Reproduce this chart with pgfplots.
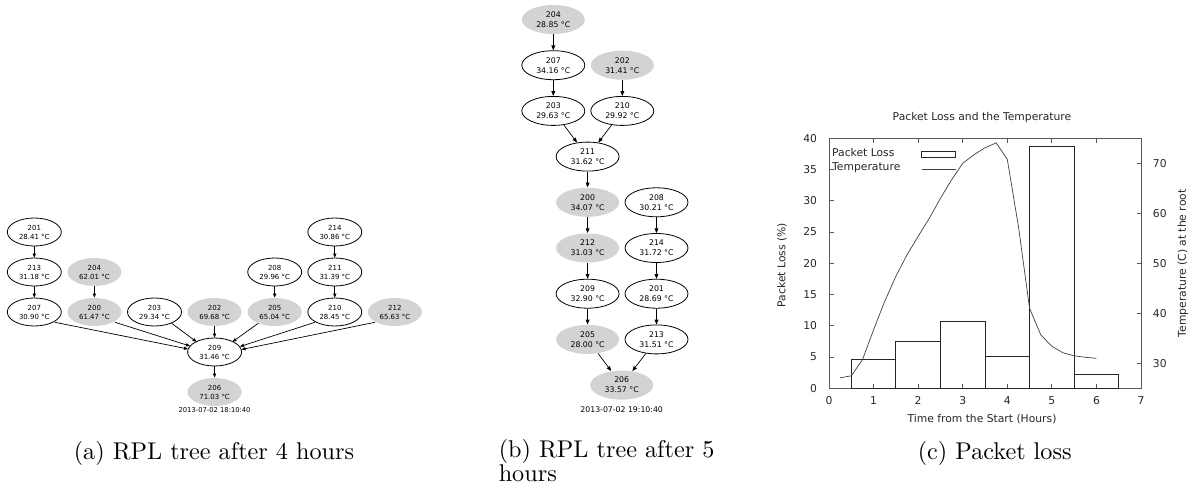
\documentclass[border=0pt]{standalone}
\usepackage{fontspec}
\newfontfamily\dv{DejaVu Sans}
\usepackage{pgfplots}
\pgfplotsset{compat=1.18}
\usetikzlibrary{shapes.geometric,arrows.meta}
\definecolor{nodegray}{HTML}{D3D3D3}
\newcommand\chartfont{\dv\fontsize{10.8}{13}\selectfont}

\tikzset{
  na/.style={ellipse, draw, line width=0.8bp, minimum width=54bp, minimum height=28bp,
    inner sep=0pt, align=center, font=\dv\fontsize{7}{9}\selectfont},
  ga/.style={na, draw=none, fill=nodegray},
  nb/.style={na, minimum width=63bp, minimum height=29bp, font=\dv\fontsize{7.8}{10}\selectfont},
  gb/.style={nb, draw=none, fill=nodegray},
  ea/.style={line width=0.7bp, -{Triangle[length=4bp,width=3.2bp]}},
  eb/.style={line width=0.7bp, -{Triangle[length=4.8bp,width=3.8bp]}},
  subcap/.style={anchor=base west, inner sep=0pt, scale=2.43},
}

\begin{document}
\begin{tikzpicture}
\useasboundingbox (0,0) rectangle (1193bp,-487bp);

\begin{scope}[x=1bp,y=-1bp]
% (a) tree after 4 hours
\node[na] (a201) at (34.3,232) {201\\28.41 °C};
\node[na] (a213) at (34.3,272) {213\\31.18 °C};
\node[na] (a207) at (34.3,312) {207\\30.90 °C};
\node[ga] (a204) at (94.4,272) {204\\62.01 °C};
\node[ga] (a200) at (94.4,312) {200\\61.47 °C};
\node[na] (a203) at (154.5,312) {203\\29.34 °C};
\node[ga] (a202) at (214.6,312) {202\\69.68 °C};
\node[na] (a208) at (274.7,272) {208\\29.96 °C};
\node[ga] (a205) at (274.7,312) {205\\65.04 °C};
\node[na] (a214) at (334.8,232) {214\\30.86 °C};
\node[na] (a211) at (334.8,272) {211\\31.39 °C};
\node[na] (a210) at (334.8,312) {210\\28.45 °C};
\node[ga] (a212) at (394.9,312) {212\\65.63 °C};
\node[na] (a209) at (214.6,352) {209\\31.46 °C};
\node[ga] (a206) at (214.6,392) {206\\71.03 °C};
\node[font=\dv\fontsize{6.8}{8}\selectfont] at (214.6,410.3) {2013-07-02 18:10:40};

\draw[ea] (a201) -- (a213);
\draw[ea] (a213) -- (a207);
\draw[ea] (a204) -- (a200);
\draw[ea] (a208) -- (a205);
\draw[ea] (a214) -- (a211);
\draw[ea] (a211) -- (a210);
\draw[ea] (a202) -- (a209);
\draw[ea] (a209) -- (a206);
\draw[ea] (55,322.3) -- (188,349);
\draw[ea] (115,322.3) -- (190,346);
\draw[ea] (171.7,323.3) -- (196.5,341.8);
\draw[ea] (258.3,323.3) -- (232.5,341.8);
\draw[ea] (315,322.3) -- (240,346.5);
\draw[ea] (375,322.3) -- (241.5,349.5);

% (b) tree after 5 hours
\node[gb] (b204) at (553.3,19.5) {204\\28.85 °C};
\node[nb] (b207) at (553.3,65.2) {207\\34.16 °C};
\node[gb] (b202) at (622.3,65.2) {202\\31.41 °C};
\node[nb] (b203) at (553.3,110.9) {203\\29.63 °C};
\node[nb] (b210) at (622.3,110.9) {210\\29.92 °C};
\node[nb] (b211) at (587.6,156.6) {211\\31.62 °C};
\node[gb] (b200) at (587.6,202.3) {200\\34.07 °C};
\node[nb] (b208) at (656.5,202.3) {208\\30.21 °C};
\node[gb] (b212) at (587.6,248) {212\\31.03 °C};
\node[nb] (b214) at (656.5,248) {214\\31.72 °C};
\node[nb] (b209) at (587.6,293.7) {209\\32.90 °C};
\node[nb] (b201) at (656.5,293.7) {201\\28.69 °C};
\node[gb] (b205) at (587.6,339.4) {205\\28.00 °C};
\node[nb] (b213) at (656.5,339.4) {213\\31.51 °C};
\node[gb] (b206) at (621.7,385.1) {206\\33.57 °C};
\node[font=\dv\fontsize{7.8}{9}\selectfont] at (621.7,409.3) {2013-07-02 19:10:40};

\draw[eb] (b204) -- (b207);
\draw[eb] (b207) -- (b203);
\draw[eb] (b202) -- (b210);
\draw[eb] (b203) -- (b211);
\draw[eb] (b210) -- (b211);
\draw[eb] (b211) -- (b200);
\draw[eb] (b200) -- (b212);
\draw[eb] (b212) -- (b209);
\draw[eb] (b209) -- (b205);
\draw[eb] (b205) -- (b206);
\draw[eb] (b208) -- (b214);
\draw[eb] (b214) -- (b201);
\draw[eb] (b201) -- (b213);
\draw[eb] (b213) -- (b206);

% captions
\node[subcap] at (73.3,459) {(a) RPL tree after 4 hours};
\node[subcap] at (498.3,457.7) {(b) RPL tree after 5};
\node[subcap] at (498.3,481.7) {hours};
\node[subcap] at (917.3,459) {(c) Packet loss};
\end{scope}

% (c) packet loss and temperature
\pgfplotsset{
  chart/.style={
    at={(829bp,-388.3bp)}, anchor=south west,
    scale only axis, width=312bp, height=250bp,
    xmin=0, xmax=7,
    tick align=inside, major tick length=4.5bp,
    axis line style={black!65, line width=0.8bp},
    every tick/.style={black!65, line width=0.8bp},
    ticklabel style={font=\chartfont, text=black!85},
    /pgf/number format/assume math mode=true,
  }
}
\begin{axis}[chart,
    ymin=0, ymax=40,
    xtick={0,...,7}, ytick={0,5,...,40},
    ytick pos=left,
    yticklabel style={xshift=-8.4bp},
    xticklabel style={yshift=-4.4bp},
    title={Packet Loss and the Temperature},
    every axis title/.style={at={([xshift=-3bp,yshift=20.6bp]axis description cs:0.5,1)},
      anchor=center, font=\chartfont, text=black!85},
    xlabel={Time from the Start (Hours)},
    every axis x label/.style={at={([xshift=-3bp,yshift=-31bp]axis description cs:0.5,0)},
      anchor=center, font=\chartfont, text=black!85},
    ylabel={Packet Loss (\%)},
    every axis y label/.style={at={([xshift=-47bp,yshift=-1.7bp]axis description cs:0,0.5)},
      rotate=90, anchor=center, font=\chartfont, text=black!85},
  ]
  \addplot[ybar, bar width=1, bar shift=0, draw=black!85, fill=none, line width=0.8bp]
    coordinates {(1,4.65) (2,7.45) (3,10.65) (4,5.05) (5,38.75) (6,2.25)};
\end{axis}

\begin{axis}[chart,
    ymin=25, ymax=75,
    axis x line=none, axis y line*=right,
    ytick={30,40,...,70},
    yticklabel style={xshift=8.4bp},
    ylabel={Temperature (C) at the root},
    every axis y label/.style={at={([xshift=42bp,yshift=0bp]axis description cs:1,0.5)},
      rotate=90, anchor=center, font=\chartfont, text=black!85},
    legend style={at={([yshift=-8bp]axis description cs:0,1)}, anchor=north west,
      draw=none, fill=none, inner sep=0pt, font=\chartfont, text=black!85,
      nodes={inner ysep=2.3bp, inner xsep=3bp},
      /tikz/every odd column/.append style={column sep=18bp}},
    legend plot pos=right,
    legend cell align=left,
    legend image code/.code={\draw[black!75, line width=0.7bp] (0bp,-1.5bp) -- (34bp,-1.5bp);},
  ]
  \addlegendimage{legend image code/.code={\draw[black!85, line width=0.8bp] (0bp,-3.5bp) rectangle (34bp,2.5bp);}}
  \addlegendentry{Packet Loss}
  \addplot[black!75, line width=0.7bp]
    coordinates {
      (0.25,27.1) (0.5,27.5) (0.75,30.7) (1.0,36.7) (1.25,42.4) (1.5,47.4)
      (1.75,51.7) (2.0,55.4) (2.25,59.0) (2.5,63.0) (2.75,66.7) (3.0,70.0)
      (3.25,71.7) (3.5,73.1) (3.75,74.1) (4.0,70.8) (4.25,57.4) (4.5,41.0)
      (4.75,35.7) (5.0,33.4) (5.25,32.1) (5.5,31.5) (5.75,31.2) (6.0,31.0)
    };
  \addlegendentry{Temperature}
\end{axis}
\end{tikzpicture}
\end{document}
